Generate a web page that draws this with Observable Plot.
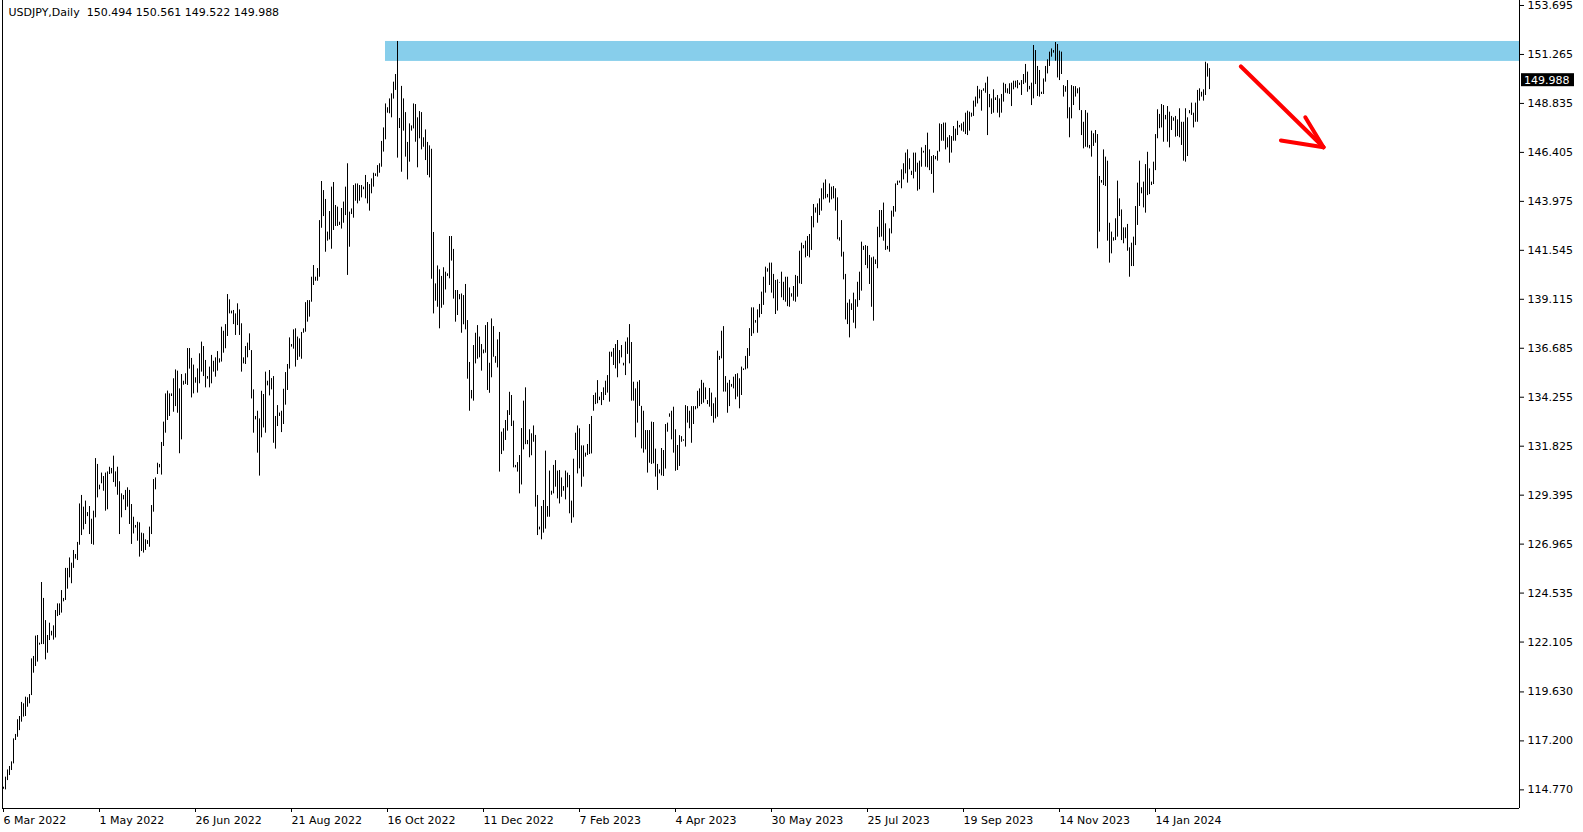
<!DOCTYPE html>
<html><head><meta charset="utf-8">
<script src="https://cdn.jsdelivr.net/npm/d3@7"></script>
<script src="https://cdn.jsdelivr.net/npm/@observablehq/plot@0.6"></script>
<style>
html,body{margin:0;padding:0;background:#fff;overflow:hidden;width:1583px;height:832px}
#chart{position:absolute;left:0;top:0}
</style></head><body><div id="chart"></div>
<script>
// ---- data (daily bars) ----
const symbol = "USDJPY";
const period = "Daily";
const lastOHLC = [150.494, 150.561, 149.522, 149.988];

const high = [
114.90,115.40,115.76,115.93,116.16,117.30,117.52,118.25,118.41,119.11,119.04,119.37,
119.34,119.50,121.27,121.39,122.40,122.43,122.05,125.06,124.27,123.17,122.43,123.04,
122.64,122.91,123.67,124.00,124.00,124.66,124.27,125.76,125.76,126.28,126.02,126.65,
126.45,127.05,128.96,129.38,128.80,129.10,128.53,128.83,128.20,128.60,131.21,130.92,
129.89,130.49,130.32,130.49,130.55,130.78,130.72,131.33,130.55,130.78,130.06,129.46,
129.38,129.63,129.76,129.63,128.93,128.30,127.89,128.05,128.02,127.51,127.48,127.18,
127.14,127.81,128.88,130.17,130.25,130.98,130.92,132.01,133.02,134.42,134.56,134.42,
134.42,135.17,135.61,135.55,134.67,135.38,135.05,135.42,136.67,136.67,136.18,135.85,
135.22,135.66,136.41,136.99,136.77,136.08,135.28,135.75,136.33,136.04,136.21,136.52,
136.16,137.73,137.53,137.86,139.35,139.09,138.53,138.56,138.39,138.89,138.59,137.90,
136.21,136.77,136.94,137.40,136.57,134.62,133.30,133.56,133.18,134.55,134.39,135.50,
135.05,135.58,135.18,135.28,133.30,133.84,133.47,133.56,134.65,135.48,135.88,137.20,
136.87,137.60,137.65,137.24,137.15,137.47,137.65,138.95,139.05,139.05,140.21,140.79,
140.21,140.64,143.02,144.96,144.51,144.07,142.45,143.47,144.68,144.91,143.77,143.69,
142.94,143.62,143.94,144.68,145.84,143.44,143.60,144.76,144.84,144.84,144.76,144.76,
144.68,145.26,144.91,144.81,145.09,145.37,145.34,145.75,145.84,146.95,147.62,148.81,
148.62,149.06,149.31,149.89,150.27,151.91,148.09,149.68,149.06,148.38,146.90,147.82,
147.72,148.81,148.78,148.12,148.43,148.38,147.13,147.52,146.90,146.73,146.56,142.43,
139.88,140.77,140.58,140.25,140.68,140.46,140.38,142.23,142.23,141.59,139.55,139.55,
139.35,139.38,139.30,139.85,138.06,135.98,134.59,136.82,137.43,137.81,137.24,136.87,
136.60,137.81,137.96,135.94,138.14,137.76,136.27,137.10,137.47,132.52,132.69,133.10,
133.59,134.50,134.34,133.07,130.87,131.01,131.36,132.70,134.06,134.72,132.11,132.64,
132.44,132.83,132.36,129.38,127.81,128.83,129.13,131.58,128.83,130.59,129.59,130.87,
131.11,130.59,130.62,130.25,129.82,130.59,130.49,130.37,129.10,131.18,132.47,132.83,
132.69,131.84,131.84,131.48,131.91,132.90,133.30,134.34,134.46,135.08,134.26,134.49,
134.72,135.05,135.33,136.49,136.49,136.67,136.87,137.07,136.57,136.82,135.94,136.99,
137.20,137.86,136.97,135.00,134.67,135.00,135.08,133.80,133.56,132.60,132.60,132.60,
133.02,133.00,131.68,130.92,130.65,131.71,131.61,132.90,132.97,133.43,133.56,133.76,
132.64,131.86,132.35,132.30,132.14,133.84,133.79,133.56,133.79,133.79,133.79,134.55,
134.67,135.09,134.95,134.72,134.09,134.69,134.46,133.93,134.22,136.54,136.28,137.53,
137.76,135.28,134.95,135.09,134.89,135.25,135.38,135.42,135.17,135.75,135.66,136.28,
136.67,137.66,138.69,138.69,138.06,138.59,138.86,139.47,140.21,140.71,140.63,140.91,
140.91,140.35,140.05,140.08,139.95,140.46,139.96,140.21,140.21,139.68,139.39,139.75,
140.30,140.25,141.50,141.90,141.78,142.00,142.23,142.33,143.22,143.82,143.65,143.85,
144.10,144.60,144.88,145.04,144.32,144.84,144.68,144.71,144.60,144.15,142.17,143.02,
141.45,140.35,138.92,139.09,138.89,139.42,139.09,139.96,140.46,141.95,141.74,141.78,
141.74,141.29,141.17,141.21,141.07,142.69,143.52,143.52,143.89,142.86,141.74,142.61,
143.49,143.72,144.84,144.98,144.98,145.54,145.84,146.37,146.53,146.09,145.47,146.37,
146.37,145.87,145.97,146.63,146.46,146.75,147.36,146.53,146.20,146.25,146.20,146.46,
147.82,147.79,147.86,147.86,147.13,147.24,147.19,147.69,147.56,147.95,147.74,147.82,
147.90,148.35,148.45,148.40,148.35,148.95,149.15,149.68,149.51,149.48,149.56,149.84,
150.14,149.28,149.06,149.51,149.11,149.23,149.06,149.28,149.84,149.78,149.56,149.81,
149.84,149.94,149.94,149.97,149.84,149.97,150.27,150.77,150.39,149.68,149.84,151.71,
151.46,150.67,150.47,149.39,150.05,150.67,151.00,151.38,151.54,151.46,151.86,151.76,
151.43,151.38,149.72,149.67,149.97,148.62,149.72,149.67,149.67,149.56,149.61,148.48,
147.90,148.48,148.35,146.75,147.46,147.33,147.49,147.29,145.21,145.01,146.53,146.17,
145.97,142.89,142.45,142.17,143.11,144.98,144.10,143.55,142.66,142.66,142.83,141.67,
141.90,142.20,143.72,144.88,145.97,144.65,144.93,145.80,146.41,145.59,144.93,145.92,
147.29,148.52,148.29,148.78,148.73,148.24,148.68,148.40,148.19,148.12,148.19,148.02,
148.57,147.90,147.90,148.57,148.12,148.48,148.85,148.35,148.85,149.48,149.56,149.39,
149.51,150.88,150.80,150.56
];

const low = [
114.80,114.77,115.23,115.48,115.73,116.06,117.22,117.38,117.71,118.13,118.38,118.41,
118.87,119.04,119.45,120.56,120.89,121.11,121.95,121.98,121.98,121.22,121.55,122.18,
122.41,122.20,122.31,123.37,123.42,123.54,124.10,124.17,124.73,125.29,125.00,125.76,
126.22,126.15,126.91,127.39,127.67,127.94,128.33,127.44,126.95,126.91,128.27,129.26,
129.66,129.96,129.59,128.60,128.67,130.42,130.45,130.02,129.79,129.39,127.44,128.27,
129.16,128.63,128.80,127.94,126.95,127.47,127.76,127.11,126.32,126.60,126.52,126.65,
126.95,126.81,127.44,128.55,129.66,130.42,130.75,130.39,131.81,132.47,133.10,133.30,
134.29,133.51,133.79,133.46,131.45,132.14,134.85,134.89,134.84,135.65,134.22,134.42,
134.95,134.46,134.92,135.50,135.28,134.72,135.15,134.72,134.92,135.50,135.25,135.55,
135.95,136.00,136.44,136.66,137.27,138.39,138.39,137.86,137.32,137.81,137.32,135.50,
135.91,135.88,136.21,136.57,134.17,132.47,133.13,131.48,130.34,132.24,132.73,132.47,
134.82,134.32,134.62,131.97,131.68,132.80,133.30,132.50,132.90,133.86,134.59,135.65,
136.74,136.64,135.75,136.08,136.24,136.14,137.43,137.48,137.98,138.23,138.97,139.80,
140.01,140.01,140.21,142.64,143.22,141.45,142.00,142.06,141.60,142.53,142.73,142.73,
142.78,142.60,142.89,143.27,140.30,141.70,143.32,143.14,143.98,143.85,143.98,144.15,
144.55,144.10,143.85,143.49,144.35,144.68,145.21,145.18,145.37,145.67,146.42,147.03,
148.35,148.32,148.12,149.05,149.48,146.12,147.59,145.42,147.46,146.17,145.04,145.92,
147.46,147.57,146.91,145.64,147.08,146.53,146.66,146.00,145.26,145.14,140.11,138.39,
139.02,138.72,137.65,138.67,138.82,139.58,140.25,140.13,141.01,139.12,137.98,138.31,
139.09,137.43,137.85,137.60,135.15,133.56,134.17,134.06,135.91,136.14,136.21,135.55,
136.41,136.44,134.59,134.45,135.22,136.24,135.94,135.71,130.54,131.41,131.58,132.11,
132.57,133.35,132.80,130.75,130.75,130.54,129.46,129.90,131.64,131.90,131.90,131.25,
131.35,132.02,128.80,127.39,127.67,127.18,127.51,127.71,128.30,128.30,129.39,129.46,
129.79,129.21,128.96,129.29,129.59,129.16,129.76,128.47,128.00,128.27,131.61,130.45,
130.70,129.79,130.29,131.28,131.36,131.41,131.44,133.56,133.89,133.93,134.09,133.84,
134.09,134.34,134.46,134.01,136.24,135.83,135.66,135.22,135.91,136.21,135.81,135.33,
136.38,135.91,134.06,134.06,132.24,132.97,133.80,131.69,131.48,131.64,130.49,130.98,
130.92,130.95,130.29,129.63,130.45,130.35,130.32,130.69,132.52,133.26,132.14,131.48,
130.58,130.62,130.82,132.02,132.07,131.78,132.97,132.69,131.97,132.90,133.63,133.68,
133.79,133.89,133.96,134.13,133.89,133.76,133.30,132.97,133.18,133.26,136.08,136.16,
134.51,134.51,133.46,133.79,134.75,134.67,134.13,134.26,133.68,134.34,135.58,135.61,
135.66,136.28,137.27,137.40,137.93,137.43,138.19,138.36,138.81,139.42,140.46,139.80,
139.42,139.14,138.36,138.53,139.92,139.19,139.05,138.97,138.75,138.72,139.22,139.02,
138.97,139.22,139.88,139.85,141.62,141.17,141.24,141.17,141.54,142.66,143.39,142.89,
143.27,143.49,144.05,144.10,144.15,143.89,144.05,144.10,143.49,142.07,142.00,141.21,
140.08,138.09,137.86,137.20,138.56,137.93,137.65,138.72,139.05,139.52,141.54,140.79,
140.63,139.85,138.72,138.03,140.84,140.63,142.17,142.20,142.00,141.54,141.57,141.45,
142.36,143.19,143.44,144.76,144.88,144.60,145.04,145.34,144.88,145.54,145.26,145.09,
145.42,144.48,144.55,145.67,146.37,145.67,145.64,145.50,145.31,144.38,146.04,145.97,
146.42,146.96,146.96,146.53,146.63,145.87,146.37,146.96,146.96,147.24,147.62,147.46,
147.41,147.29,147.24,147.46,148.15,148.19,148.65,148.81,149.06,148.45,149.44,149.34,
147.24,148.62,148.29,148.35,148.98,148.35,148.12,148.35,148.90,149.34,149.31,149.28,
148.68,149.51,149.61,149.56,149.73,149.23,149.77,149.84,149.39,149.51,148.73,149.06,
149.77,149.18,149.15,149.28,149.28,149.89,150.30,150.67,151.13,151.33,150.93,150.10,
149.97,150.27,149.15,149.39,148.07,147.13,148.07,148.73,149.15,149.31,148.48,147.24,
146.58,146.66,146.63,146.58,146.17,146.70,146.86,141.62,142.45,144.88,144.76,144.71,
142.00,140.91,141.37,142.00,142.03,142.20,143.22,142.03,141.87,142.12,141.50,140.21,
140.74,140.74,141.78,142.78,143.72,144.35,143.65,143.39,144.26,144.31,144.76,144.81,
145.50,147.08,147.58,147.62,146.91,148.02,146.91,146.63,147.49,147.95,147.16,147.19,
147.13,146.75,145.97,145.92,146.20,148.32,148.24,147.62,147.90,147.90,148.95,149.15,
148.95,149.23,150.14,149.52
];

// time axis labels (one every 48 bars)
const dateLabels = ["6 Mar 2022","1 May 2022","26 Jun 2022","21 Aug 2022","16 Oct 2022","11 Dec 2022",
  "7 Feb 2023","4 Apr 2023","30 May 2023","25 Jul 2023","19 Sep 2023","14 Nov 2023","14 Jan 2024"];
const dateLabelBars = [0,48,96,144,192,240,288,336,384,432,480,528,576];

// price axis labels
const priceTicks = [153.695,151.265,148.835,146.405,143.975,141.545,139.115,136.685,134.255,
  131.825,129.395,126.965,124.535,122.105,119.630,117.200,114.770];

// resistance zone (bar index where it starts, price band)
const zoneStartBar = [191];
const zoneTop = [151.91];
const zoneBottom = [150.92];

// hand-drawn red arrow: [bar index, price]
const arrowShaft = [[618.7,150.67],[660.0,146.66]];
const arrowHeadA = [[650.9,148.15],[660.0,146.66]];
const arrowHeadB = [[638.7,147.00],[660.0,146.66]];

// ---- chart ----
const xDomain = [-0.5, 758];
const yDomain = [113.845, 153.943];
const bars = high.map((h, i) => ({i, high: h, low: low[i]}));
const zone = zoneStartBar.map((b, i) => ({b, top: zoneTop[i], bottom: zoneBottom[i]}));
const FONT = "DejaVu Sans";

const chart = Plot.plot({
  width: 1583, height: 832,
  marginLeft: 2, marginRight: 64, marginTop: 0, marginBottom: 24,
  style: {fontFamily: FONT, fontSize: "11px", background: "#fff", color: "#000", overflow: "visible"},
  x: {type: "linear", domain: xDomain, axis: null},
  y: {type: "linear", domain: yDomain, axis: null},
  marks: [
    Plot.rect(zone, {x1: "b", x2: () => xDomain[1], y1: "bottom", y2: "top", fill: "#87CEEB"}),
    Plot.ruleX(bars, {x: "i", y1: "low", y2: "high", stroke: "#000", strokeWidth: 1}),
    Plot.line(arrowShaft, {x: d => d[0], y: d => d[1], stroke: "#ff0000", strokeWidth: 4, strokeLinecap: "round"}),
    Plot.line(arrowHeadA, {x: d => d[0], y: d => d[1], stroke: "#ff0000", strokeWidth: 4, strokeLinecap: "round"}),
    Plot.line(arrowHeadB, {x: d => d[0], y: d => d[1], stroke: "#ff0000", strokeWidth: 4, strokeLinecap: "round"}),
    Plot.ruleX([xDomain[0]], {stroke: "#000"}),
    Plot.ruleX([xDomain[1]], {stroke: "#000"}),
    Plot.ruleY([yDomain[0]], {stroke: "#000"}),
    Plot.axisY(priceTicks, {anchor: "right", tickSize: 4, tickPadding: 4, tickFormat: d => d.toFixed(3), fontSize: 11, stroke: "#000"}),
    Plot.axisX(dateLabelBars, {anchor: "bottom", tickSize: 4, tickPadding: 4, tickFormat: (d) => dateLabels[dateLabelBars.indexOf(d)], textAnchor: "start", dx: 0, fontSize: 11}),
    Plot.text([`${symbol},${period}\u00a0 ${lastOHLC.map(v => v.toFixed(3)).join(" ")}`],
      {frameAnchor: "top-left", dx: 6, dy: 12, lineAnchor: "middle", textAnchor: "start", fontSize: 11, fill: "#000"})
  ]
});
document.getElementById("chart").appendChild(chart);

// current price tag on the price axis
const ys = chart.scale("y"), xs = chart.scale("x");
const svg = d3.select(chart);
const yc = ys.apply(lastOHLC[3]);
const xr = xs.apply(xDomain[1]);
const g = svg.append("g").attr("text-anchor", "start");
g.append("rect").attr("x", xr + 2).attr("y", yc - 6.5).attr("width", 53).attr("height", 13).attr("fill", "#000");
g.append("text").attr("x", xr + 5).attr("y", yc).attr("dy", "0.35em").attr("fill", "#fff")
  .attr("text-anchor", "start").attr("font-family", FONT).attr("font-size", 11).text(lastOHLC[3].toFixed(3));
</script>
</body></html>
